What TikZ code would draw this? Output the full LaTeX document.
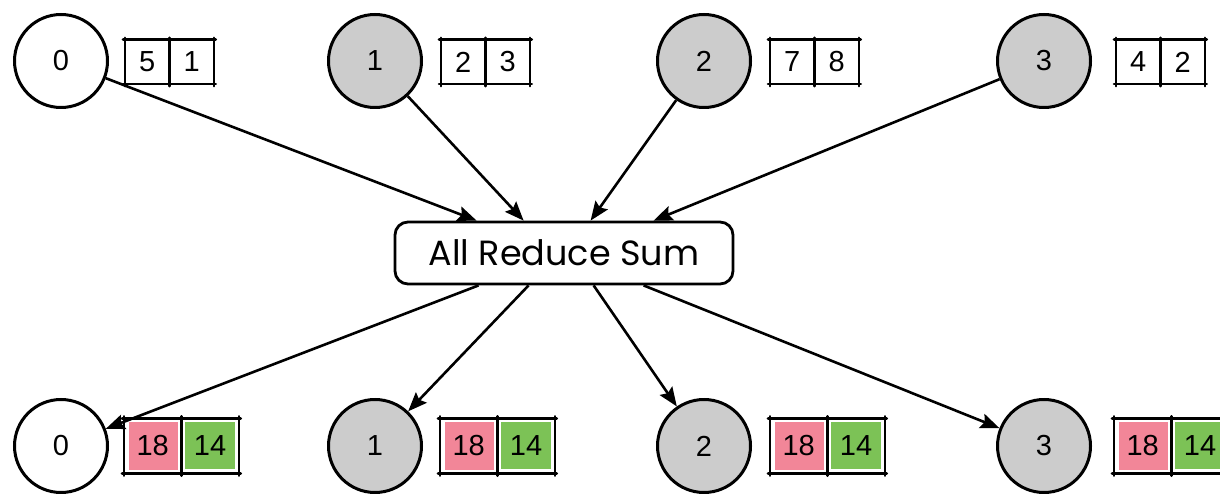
\documentclass[tikz,border=0pt]{standalone}
\usepackage{fontspec}
\setmainfont{Liberation Sans}
\newfontfamily\handfont{Poppins}
\usetikzlibrary{arrows.meta,backgrounds}
\definecolor{nodegray}{RGB}{204,204,204}
\definecolor{sumred}{RGB}{242,134,152}
\definecolor{sumgreen}{RGB}{124,194,86}
\begin{document}
\begin{tikzpicture}[x=1pt,y=-1pt,
  rank/.style={circle, draw, line width=3pt, minimum size=93pt, inner sep=0pt,
               font=\fontsize{29}{31}\selectfont},
  idle/.style={rank, fill=white},
  busy/.style={rank, fill=nodegray},
  cell/.style={minimum width=44pt, minimum height=44pt, inner sep=0pt, anchor=west,
               font=\fontsize{29}{31}\selectfont},
  bigcell/.style={cell, minimum width=57pt, minimum height=55pt},
  sk/.style={line width=2.6pt, line cap=round, shorten <=-2pt, shorten >=-2pt},
  flow/.style={line width=2.6pt, -{Stealth[length=19pt,width=15pt,inset=3pt]}},
  op/.style={draw, line width=2.8pt, rounded corners=13pt, minimum width=338pt,
             minimum height=62pt, font=\handfont\fontsize{35}{37}\selectfont}
]
\useasboundingbox (0,0) rectangle (1220,494);

% central collective operation
\node[op] (sum) at (564,253) {All Reduce Sum};

% ranks with their input buffers (top) and reduced buffers (bottom)
\foreach \i/\cx/\st/\tl/\a/\b/\bl in {0/61/idle/125/5/1/124, 1/375/busy/441/2/3/440,
                                      2/704/busy/770/7/8/770, 3/1044/busy/1116/4/2/1114} {
  % input side
  \node[\st] (t\i) at (\cx,61) {\i};
  \node[cell] (ta\i) at (\tl,62) {\a};
  \node[cell] (tb\i) at (ta\i.east) {\b};
  \draw[sk] (ta\i.north west) -- (tb\i.north east);
  \draw[sk] (ta\i.south west) -- (tb\i.south east);
  \draw[sk] (ta\i.north west) -- (ta\i.south west);
  \draw[sk] (ta\i.north east) -- (ta\i.south east);
  \draw[sk] (tb\i.north east) -- (tb\i.south east);
  % output side
  \node[\st] (b\i) at (\cx,446) {\i};
  \node[bigcell] (ba\i) at (\bl,446) {18};
  \node[bigcell] (bb\i) at (ba\i.east) {14};
  \begin{pgfonlayer}{background}
    \fill[sumred] ([xshift=5pt,yshift=-4pt]ba\i.north west) rectangle ([xshift=-3pt,yshift=4pt]ba\i.south east);
    \fill[sumgreen] ([xshift=4pt,yshift=-4pt]bb\i.north west) rectangle ([xshift=-4pt,yshift=5pt]bb\i.south east);
  \end{pgfonlayer}
  \draw[sk] (ba\i.north west) -- (bb\i.north east);
  \draw[sk] (ba\i.south west) -- (bb\i.south east);
  \draw[sk] (ba\i.north west) -- (ba\i.south west);
  \draw[sk] (ba\i.north east) -- (ba\i.south east);
  \draw[sk] (bb\i.north east) -- (bb\i.south east);
}

% gather into the reduction
\draw[flow] (t0) -- ([xshift=83pt]sum.north west);
\draw[flow] (t1) -- ([xshift=130pt]sum.north west);
\draw[flow] (t2) -- ([xshift=197pt]sum.north west);
\draw[flow] (t3) -- ([xshift=260pt]sum.north west);

% broadcast the result
\draw[flow] ([xshift=85pt]sum.south west) -- (b0);
\draw[flow] ([xshift=135pt]sum.south west) -- (b1);
\draw[flow] ([xshift=200pt]sum.south west) -- (b2);
\draw[flow] ([xshift=250pt]sum.south west) -- (b3);
\end{tikzpicture}
\end{document}
